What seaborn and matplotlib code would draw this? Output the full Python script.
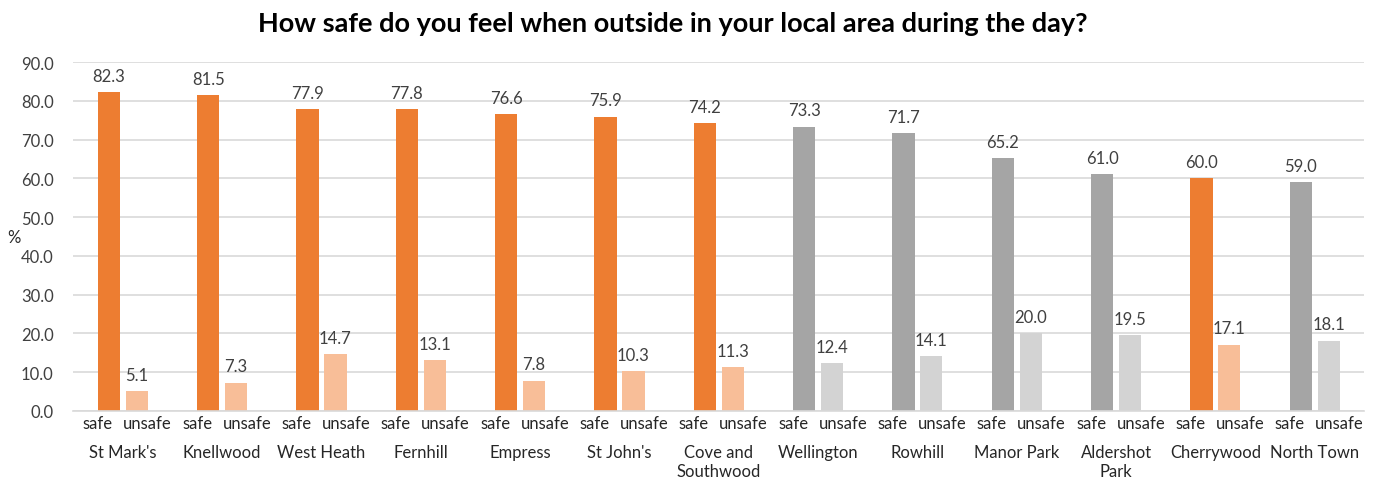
import matplotlib
matplotlib.use("Agg")
import matplotlib.pyplot as plt
import seaborn as sns
import pandas as pd
from matplotlib.ticker import FormatStrFormatter

wards = ["St Mark's", "Knellwood", "West Heath", "Fernhill", "Empress", "St John's",
         "Cove and\nSouthwood", "Wellington", "Rowhill", "Manor Park", "Aldershot\nPark",
         "Cherrywood", "North Town"]
safe = [82.3, 81.5, 77.9, 77.8, 76.6, 75.9, 74.2, 73.3, 71.7, 65.2, 61.0, 60.0, 59.0]
unsafe = [5.1, 7.3, 14.7, 13.1, 7.8, 10.3, 11.3, 12.4, 14.1, 20.0, 19.5, 17.1, 18.1]
highlight = [True, True, True, True, True, True, True, False, False, False, False, True, False]
measures = ["safe", "unsafe"]

ORANGE, LORANGE = "#ED7D31", "#F8BE98"
GREY, LGREY = "#A5A5A5", "#D3D3D3"

df = pd.DataFrame({
    "ward": wards * 2,
    "measure": ["safe"] * len(wards) + ["unsafe"] * len(wards),
    "value": safe + unsafe,
})

sns.set_theme(style="white")
plt.rcParams["font.family"] = ["Lato", "DejaVu Sans"]

fig = plt.figure(figsize=(13.81, 4.81), dpi=100)
ax = fig.add_axes([0.053, 0.1435, 0.935, 0.7255])

sns.barplot(data=df, x="ward", y="value", hue="measure", order=wards,
            hue_order=measures, width=0.56, gap=0.2, legend=False, ax=ax,
            palette=[ORANGE, LORANGE], saturation=1, errorbar=None)

for ci, cont in enumerate(ax.containers):
    for i, p in enumerate(cont.patches):
        if highlight[i]:
            p.set_facecolor(ORANGE if ci == 0 else LORANGE)
        else:
            p.set_facecolor(GREY if ci == 0 else LGREY)
        p.set_edgecolor("none")
    ax.bar_label(cont, fmt="%.1f", padding=6, fontsize=12, color="#404040")

ax.set_ylim(0, 90)
ax.set_xlim(-0.5, len(wards) - 0.5)
ax.set_yticks(range(0, 91, 10))
ax.yaxis.set_major_formatter(FormatStrFormatter("%.1f"))
ax.tick_params(axis="y", labelsize=12, labelcolor="#404040", length=0, pad=14)
ax.grid(axis="y", color="#D9D9D9", linewidth=1.2)
ax.set_axisbelow(True)
for s in ["top", "right", "left"]:
    ax.spines[s].set_visible(False)
ax.spines["bottom"].set_color("#D9D9D9")
ax.spines["bottom"].set_linewidth(1.2)

# ward labels (major) and safe/unsafe labels (minor)
ax.set_xticks(range(len(wards)))
ax.set_xticklabels(wards, fontsize=12, color="#262626", va="top", linespacing=1.2)
ax.tick_params(axis="x", which="major", length=0, pad=24)
minor_pos, minor_lab = [], []
for i in range(len(wards)):
    minor_pos += [i - 0.25, i + 0.25]
    minor_lab += measures
ax.set_xticks(minor_pos, minor=True)
ax.set_xticklabels(minor_lab, minor=True, fontsize=12, color="#262626")
ax.tick_params(axis="x", which="minor", length=0, pad=3)

ax.set_xlabel("")
ax.set_ylabel("")
fig.text(14 / 1381, 1 - 238 / 481, "%", fontsize=12, color="#262626",
         ha="center", va="center")

fig.suptitle("How safe do you feel when outside in your local area during the day?",
             x=673 / 1381, y=0.975, fontsize=19.5, fontweight="bold", color="black")

fig.savefig("out.png", dpi=100, facecolor="white")
